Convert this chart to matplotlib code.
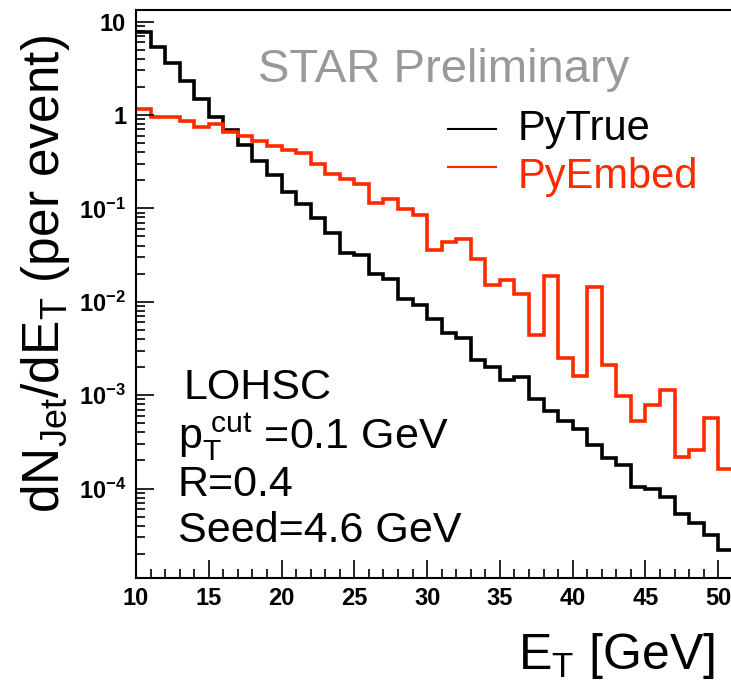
import numpy as np
import matplotlib
matplotlib.use("Agg")
import matplotlib.pyplot as plt
from matplotlib.ticker import FixedLocator, FuncFormatter, LogLocator, NullFormatter

plt.rcParams["font.family"] = ["Liberation Sans", "DejaVu Sans"]
plt.rcParams["mathtext.fontset"] = "custom"
plt.rcParams["mathtext.rm"] = "Liberation Sans"
plt.rcParams["mathtext.it"] = "Liberation Sans:italic"
plt.rcParams["mathtext.bf"] = "Liberation Sans:bold"

# jet E_T spectra, 1 GeV bins from 10 to 51 GeV
bin_edges = np.arange(10, 52, 1)
py_true = [7.7, 5.4, 3.6, 2.3, 1.5, 0.94, 0.69, 0.48, 0.32, 0.23,
           0.15, 0.11, 0.078, 0.054, 0.033, 0.032, 0.020, 0.0174, 0.0106, 0.0092,
           0.0066, 0.0046, 0.0041, 0.0024, 0.0020, 0.00147, 0.00158, 0.00091, 0.00067, 0.00053,
           0.00043, 0.00029, 0.00021, 0.00018, 1.05e-4, 9.8e-5, 8.2e-5, 5.4e-5, 4.3e-5, 3.2e-5,
           2.2e-5]
py_embed = [1.15, 0.96, 0.96, 0.87, 0.74, 0.80, 0.66, 0.60, 0.52, 0.46,
            0.42, 0.39, 0.30, 0.235, 0.205, 0.181, 0.113, 0.125, 0.098, 0.085,
            0.036, 0.044, 0.047, 0.0285, 0.0151, 0.0171, 0.0121, 0.0044, 0.0189, 0.0025,
            0.0016, 0.0145, 0.0021, 0.00098, 0.00053, 0.00079, 0.00114, 0.00022, 0.00026, 0.00057,
            0.00016]

x_major = [10, 15, 20, 25, 30, 35, 40, 45, 50]
y_major = [1e-4, 1e-3, 1e-2, 1e-1, 1, 10]

RED = "#ff2a00"

fig = plt.figure(figsize=(7.31, 6.81), dpi=100)
ax = fig.add_axes([0.186, 0.1517, 0.8165, 0.8336])

ax.stairs(py_true, bin_edges, baseline=None, color="black", lw=2.6)
ax.stairs(py_embed, bin_edges, baseline=None, color=RED, lw=2.6)

ax.set_yscale("log")
ax.set_xlim(10, 51)
ax.set_ylim(1.11e-5, 13.3)

ax.xaxis.set_major_locator(FixedLocator(x_major))
ax.xaxis.set_minor_locator(FixedLocator(np.arange(10, 52, 1)))
ax.yaxis.set_major_locator(FixedLocator(y_major))
ax.yaxis.set_minor_locator(LogLocator(base=10, subs=np.arange(2, 10)))
ax.yaxis.set_minor_formatter(NullFormatter())


def ylab(v, pos):
    if v == 10:
        return "10"
    if v == 1:
        return "1"
    return r"$\mathbf{10^{%d}}$" % int(round(np.log10(v)))


ax.yaxis.set_major_formatter(FuncFormatter(ylab))
ax.xaxis.set_major_formatter(FuncFormatter(lambda v, p: "%d" % v))

ax.tick_params(which="both", direction="in", top=False, right=False, width=1.2)
ax.tick_params(which="major", length=13)
ax.tick_params(which="minor", length=6.5)
ax.tick_params(axis="x", which="major", pad=7, labelsize=17)
ax.tick_params(axis="y", which="major", pad=7, labelsize=17)
for lab in ax.get_xticklabels() + ax.get_yticklabels():
    lab.set_fontweight("bold")
for sp in ax.spines.values():
    sp.set_linewidth(1.5)

# axis titles
fig.text(0.978, 0.017, r"E$_{\rm T}$ [GeV]", ha="right", va="baseline", fontsize=36)
fig.text(0.062, 0.598, r"dN$_{\rm Jet}$/dE$_{\rm T}$ (per event)", rotation=90,
         ha="center", va="center", fontsize=37)

# watermark
ax.text(0.205, 0.8735, "STAR Preliminary", transform=ax.transAxes, color="#999999",
        fontsize=34, va="baseline")

# legend
ax.plot([0.522, 0.604], [0.791, 0.791], transform=ax.transAxes, color="black", lw=1.5)
ax.text(0.64, 0.791, "PyTrue", transform=ax.transAxes, fontsize=30, va="center")
ax.plot([0.522, 0.604], [0.723, 0.723], transform=ax.transAxes, color=RED, lw=1.5)
ax.text(0.64, 0.705, "PyEmbed", transform=ax.transAxes, fontsize=30, va="center", color=RED)

# jet finder settings
ax.text(0.08, 0.335, "LOHSC", transform=ax.transAxes, fontsize=31, va="center")
ax.text(0.07, 0.248, r"p$_{\rm T}^{\ \rm cut}$ =0.1 GeV", transform=ax.transAxes,
        fontsize=31, va="center")
ax.text(0.07, 0.163, "R=0.4", transform=ax.transAxes, fontsize=31, va="center")
ax.text(0.07, 0.083, "Seed=4.6 GeV", transform=ax.transAxes, fontsize=31, va="center")

fig.savefig("out.png", dpi=100)
